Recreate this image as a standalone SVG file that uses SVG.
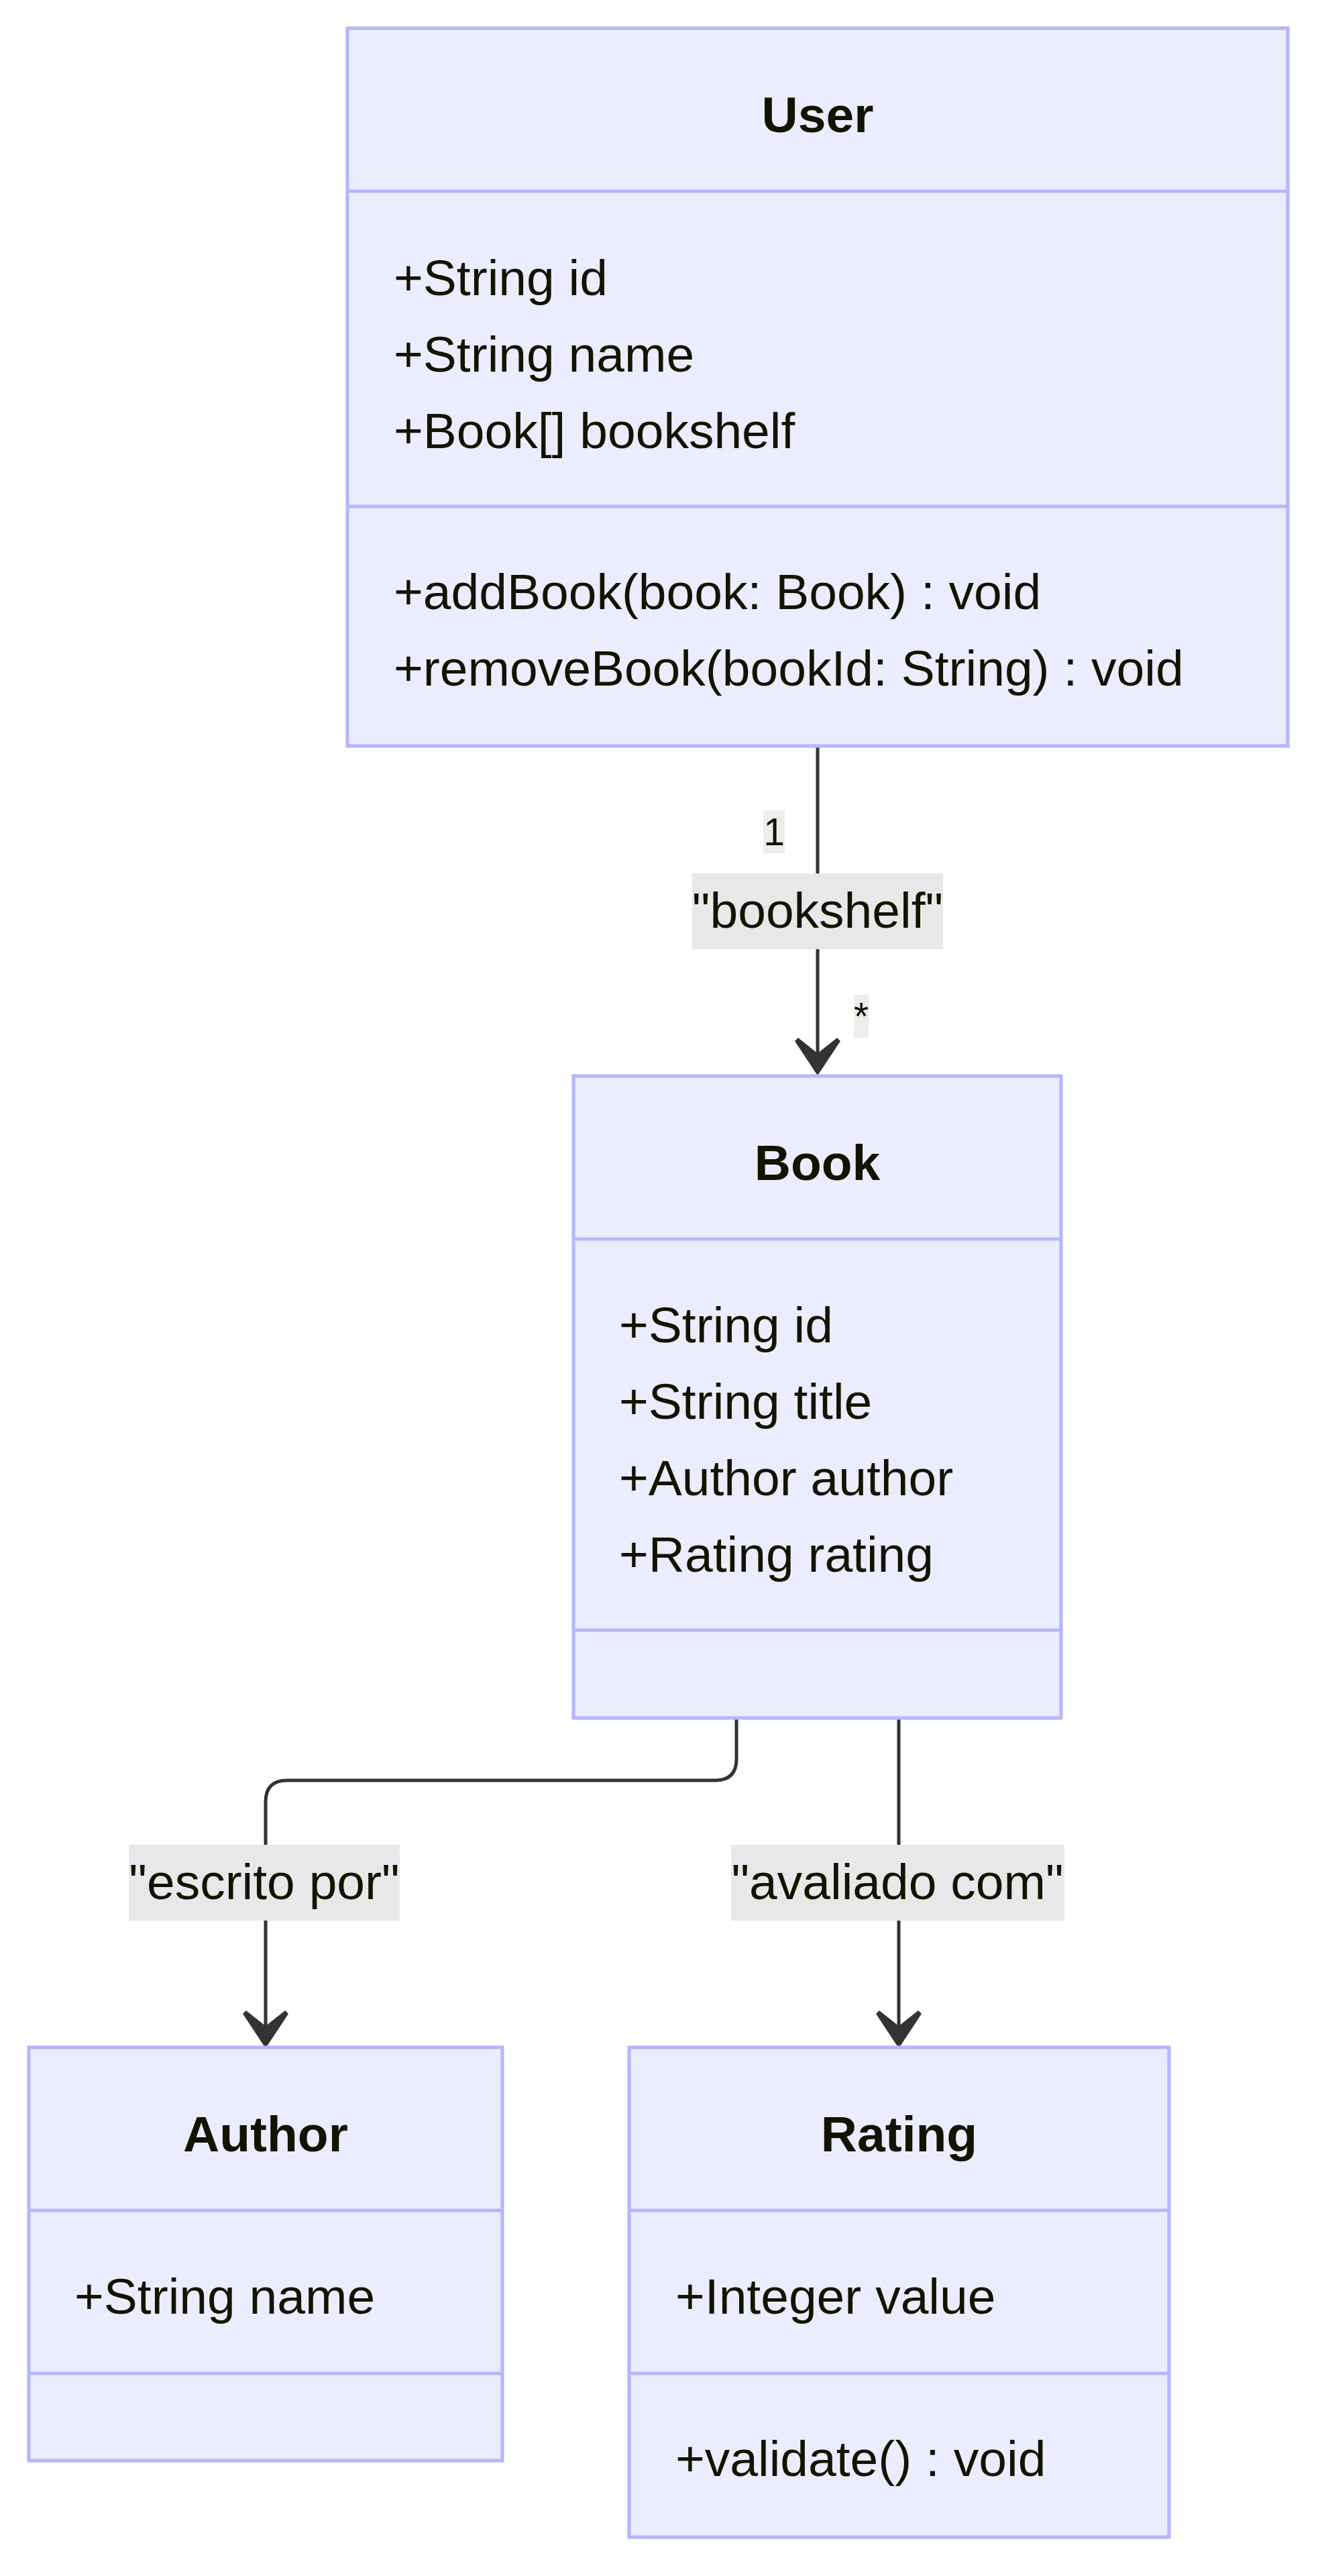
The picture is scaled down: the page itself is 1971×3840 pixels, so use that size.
<svg xmlns="http://www.w3.org/2000/svg" width="1971" height="3840" viewBox="0 0 1971 3840">
<style>
.box{fill:#ECECFF;stroke:#b6b6fc;stroke-width:5.2}
.div{stroke:#b6b6fc;stroke-width:5.2;fill:none}
.t{font-family:"Liberation Sans",Arial,sans-serif;font-size:75px;fill:#131300}
.title{font-weight:bold;text-anchor:middle}
.edge{stroke:#333333;stroke-width:5;fill:none}
.head{fill:#333333;stroke:#333333;stroke-width:1.5;stroke-linejoin:miter}
.lbg{fill:#e8e8ea}
.mbg{fill:#ededed}
.lt{font-family:"Liberation Sans",Arial,sans-serif;font-size:75px;fill:#131300;text-anchor:middle}
.mt{font-family:"Liberation Sans",Arial,sans-serif;font-size:57px;fill:#131300;text-anchor:middle}
</style>
<defs>
  <path id="arrow" class="head" d="M0,0 L-33,-50 L-29,-54 L0,-31 L29,-54 L33,-50 Z"/>
</defs>
<rect width="1971" height="3840" fill="#ffffff"/>
<g id="connectors">
  <path class="edge" d="M1219,1112 L1219,1572"/>
  <use href="#arrow" x="1219" y="1602"/>
  <path class="edge" d="M1098,2561 L1098,2622 Q1098,2654 1066,2654 L428,2654 Q396,2654 396,2686 L396,3022"/>
  <use href="#arrow" x="396" y="3052"/>
  <path class="edge" d="M1340,2561 L1340,3022"/>
  <use href="#arrow" x="1340" y="3052"/>
  <g id="label-bookshelf">
    <rect class="lbg" x="1032" y="1302" width="374" height="113"/>
    <text class="lt" x="1219" y="1383">"bookshelf"</text>
  </g>
  <g id="label-mult-1">
    <rect class="mbg" x="1138" y="1208" width="32" height="64"/>
    <text class="mt" x="1154" y="1260">1</text>
  </g>
  <g id="label-mult-star">
    <rect class="mbg" x="1273" y="1483" width="22" height="64"/>
    <text class="mt" x="1284" y="1535">*</text>
  </g>
  <g id="label-escrito">
    <rect class="lbg" x="192" y="2750" width="404" height="113"/>
    <text class="lt" x="394" y="2831">"escrito por"</text>
  </g>
  <g id="label-avaliado">
    <rect class="lbg" x="1090" y="2750" width="497" height="113"/>
    <text class="lt" x="1338" y="2831">"avaliado com"</text>
  </g>
</g>
<g id="User">
  <rect class="box" x="518" y="42" width="1402" height="1070"/>
  <line class="div" x1="518" y1="285" x2="1920" y2="285"/>
  <line class="div" x1="518" y1="755" x2="1920" y2="755"/>
  <text class="t title" x="1219" y="197">User</text>
  <text class="t" x="587" y="440">+String id</text>
  <text class="t" x="587" y="554">+String name</text>
  <text class="t" x="587" y="668">+Book[] bookshelf</text>
  <text class="t" x="587" y="908">+addBook(book: Book) : void</text>
  <text class="t" x="587" y="1022">+removeBook(bookId: String) : void</text>
</g>
<g id="Book">
  <rect class="box" x="855" y="1604" width="727" height="957"/>
  <line class="div" x1="855" y1="1847" x2="1582" y2="1847"/>
  <line class="div" x1="855" y1="2430" x2="1582" y2="2430"/>
  <text class="t title" x="1218.5" y="1759">Book</text>
  <text class="t" x="923" y="2001">+String id</text>
  <text class="t" x="923" y="2115">+String title</text>
  <text class="t" x="923" y="2229">+Author author</text>
  <text class="t" x="923" y="2343">+Rating rating</text>
</g>
<g id="Author">
  <rect class="box" x="43" y="3052" width="706" height="616"/>
  <line class="div" x1="43" y1="3295" x2="749" y2="3295"/>
  <line class="div" x1="43" y1="3538" x2="749" y2="3538"/>
  <text class="t title" x="396" y="3207">Author</text>
  <text class="t" x="111" y="3449">+String name</text>
</g>
<g id="Rating">
  <rect class="box" x="938" y="3052" width="805" height="730"/>
  <line class="div" x1="938" y1="3295" x2="1743" y2="3295"/>
  <line class="div" x1="938" y1="3538" x2="1743" y2="3538"/>
  <text class="t title" x="1340.5" y="3207">Rating</text>
  <text class="t" x="1007" y="3449">+Integer value</text>
  <text class="t" x="1007" y="3691">+validate() : void</text>
</g>
</svg>
